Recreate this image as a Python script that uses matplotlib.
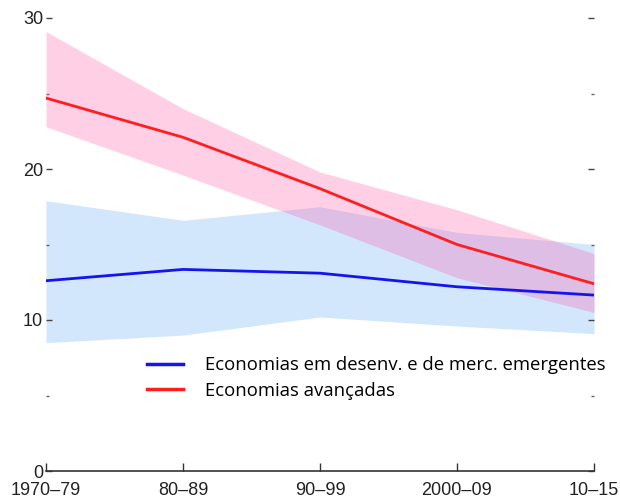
import matplotlib
matplotlib.use("Agg")
import matplotlib.pyplot as plt
from matplotlib import font_manager
import numpy as np

categories = ["1970\u201379", "80\u201389", "90\u201399", "2000\u201309", "10\u201315"]

emerging_mid = [12.6, 13.35, 13.1, 12.2, 11.65]
emerging_hi = [17.9, 16.6, 17.5, 15.8, 15.0]
emerging_lo = [8.5, 9.0, 10.2, 9.6, 9.1]

advanced_mid = [24.7, 22.1, 18.7, 15.0, 12.4]
advanced_hi = [29.1, 24.0, 19.8, 17.3, 14.4]
advanced_lo = [22.8, 19.6, 16.3, 12.8, 10.5]

labels = ["Economias em desenv. e de merc. emergentes", "Economias avançadas"]
yticks = [0, 10, 20, 30]
yminor = [5, 15, 25]

available = {f.name for f in font_manager.fontManager.ttflist}
if "Liberation Sans Narrow" in available:
    tick_family = ["Liberation Sans Narrow", "DejaVu Sans"]
    tick_size = 14.5
else:
    tick_family = ["Liberation Sans", "DejaVu Sans"]
    tick_size = 13

fig = plt.figure(figsize=(6.2, 5.04), dpi=100)
ax = fig.add_axes([46 / 620, 1 - 471 / 504, (594 - 46) / 620, (471 - 18) / 504])

x = np.arange(len(categories))
ax.fill_between(x, emerging_lo, emerging_hi, color="#d2e7fc", lw=0, zorder=1)
ax.fill_between(x, advanced_lo, advanced_hi, color=(1.0, 80 / 255, 165 / 255), alpha=0.27, lw=0, zorder=2)
ax.plot(x, emerging_mid, color="#1414ee", lw=2, label=labels[0], zorder=3)
ax.plot(x, advanced_mid, color="#ff1e1e", lw=2, label=labels[1], zorder=3)

ax.set_xlim(0, 4)
ax.set_ylim(0, 30)
for s in ["top", "right", "left"]:
    ax.spines[s].set_visible(False)
ax.spines["bottom"].set_color("#333333")
ax.spines["bottom"].set_linewidth(1.2)

ax.set_xticks(x)
ax.set_xticklabels(categories, fontfamily=tick_family, fontsize=tick_size, color="#222222")
ax.tick_params(axis="x", direction="in", length=6, width=1, color="#333333", pad=8)

ax.set_yticks(yticks)
ax.set_yticklabels([str(v) for v in yticks], fontfamily=tick_family, fontsize=tick_size, color="#222222")
ax.set_yticks(yminor, minor=True)
ax.tick_params(axis="y", which="major", direction="in", length=4, width=1, color="#444444", pad=2,
               right=True)
ax.tick_params(axis="y", which="minor", direction="in", length=2, width=1, color="#666666", right=True)
ax.tick_params(axis="y", which="both", labelright=False)

leg = ax.legend(loc="upper left", bbox_to_anchor=(147 / 620, 1 - 356 / 504), bbox_transform=fig.transFigure,
                frameon=False, handlelength=1.95, handletextpad=1.2, labelspacing=0.42,
                borderpad=0, borderaxespad=0,
                prop={"family": ["Open Sans", "DejaVu Sans"], "size": 13.3})
for line in leg.get_lines():
    line.set_linewidth(2.5)

fig.savefig("out.png", dpi=100)
